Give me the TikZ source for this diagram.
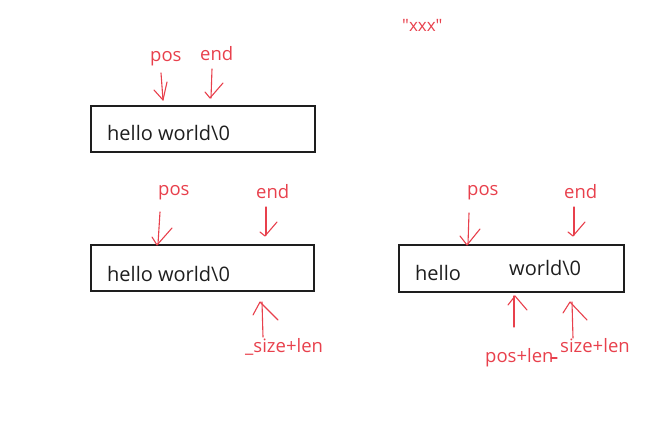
\documentclass[tikz,border=0pt]{standalone}
\usepackage{fontspec}
\setmainfont{Open Sans}
\newfontfamily\qfont[Ligatures=ResetAll]{Open Sans}
\definecolor{pen}{RGB}{232,64,76}
\definecolor{ink}{RGB}{30,30,30}
\begin{document}
\begin{tikzpicture}[x=1pt,y=-1pt,
 box/.style={draw=ink, line width=1.6pt, inner sep=0pt},
 lbl/.style={text=pen, font=\fontsize{18.5}{20}\selectfont, inner sep=0pt, anchor=base west},
 txt/.style={text=ink, font=\fontsize{20}{22}\selectfont, inner sep=0pt, anchor=base west},
 stroke/.style={draw=pen, line width=1.1pt, line cap=round, line join=round}]
\useasboundingbox (0,0) rectangle (665,428);
% boxes
\node[box, minimum width=224pt, minimum height=46pt] (b1) at (203,129) {};
\node[box, minimum width=223pt, minimum height=46pt] (b2) at (202.5,268) {};
\node[box, minimum width=225pt, minimum height=47pt] (b3) at (511.5,268.5) {};
% box texts
\node[txt] (t1) at (107,141) {hello world\textbackslash 0};
\node[txt] (t2) at (107,281) {hello world\textbackslash 0};
\node[txt] (t3a) at (415,280) {hello};
\node[txt] (t3b) at (509,275) {world\textbackslash 0};
% labels
\node[lbl, font=\qfont\fontsize{17}{19}\selectfont] (q) at (402,32) {"xxx"};
\node[lbl] (p1) at (150,62) {pos};
\node[lbl] (e1) at (200,61) {end};
\node[lbl] (p2) at (158,196) {pos};
\node[lbl] (e2) at (256,198) {end};
\node[lbl] (s2) at (245,352) {\_size+len};
\node[lbl] (p3) at (467,196) {pos};
\node[lbl] (e3) at (564,198) {end};
\node[lbl] (pl3) at (485,362) {pos+len};
\node[lbl] (s3) at (560,352) {size+len};
\draw[stroke] (551,358) -- (557,358);
% hand-drawn arrows
\draw[stroke] (161,73) -- (163,100);
\draw[stroke] (154,90) -- (163,100) -- (167,82);
\draw[stroke] (212,69) -- (211,98);
\draw[stroke] (205,92) -- (210,98) -- (223,83);
\draw[stroke] (160,212) -- (158,244);
\draw[stroke] (152,237) -- (157,245) -- (172,228);
\draw[stroke] (266,207) -- (266,235);
\draw[stroke] (260,232) -- (265,236) -- (277,222);
\draw[stroke] (263,337) -- (262,302);
\draw[stroke] (253,315) -- (260,302) -- (278,320);
\draw[stroke] (469,213) -- (468,244);
\draw[stroke] (460,236) -- (467,245) -- (480,229);
\draw[stroke] (574,207) -- (574,235);
\draw[stroke] (568,232) -- (573,236) -- (585,222);
\draw[stroke] (514,327) -- (514,296);
\draw[stroke] (508,305) -- (515,296) -- (527,310);
\draw[stroke] (573,338) -- (572,302);
\draw[stroke] (563,313) -- (570,302) -- (587,320);
\end{tikzpicture}
\end{document}
